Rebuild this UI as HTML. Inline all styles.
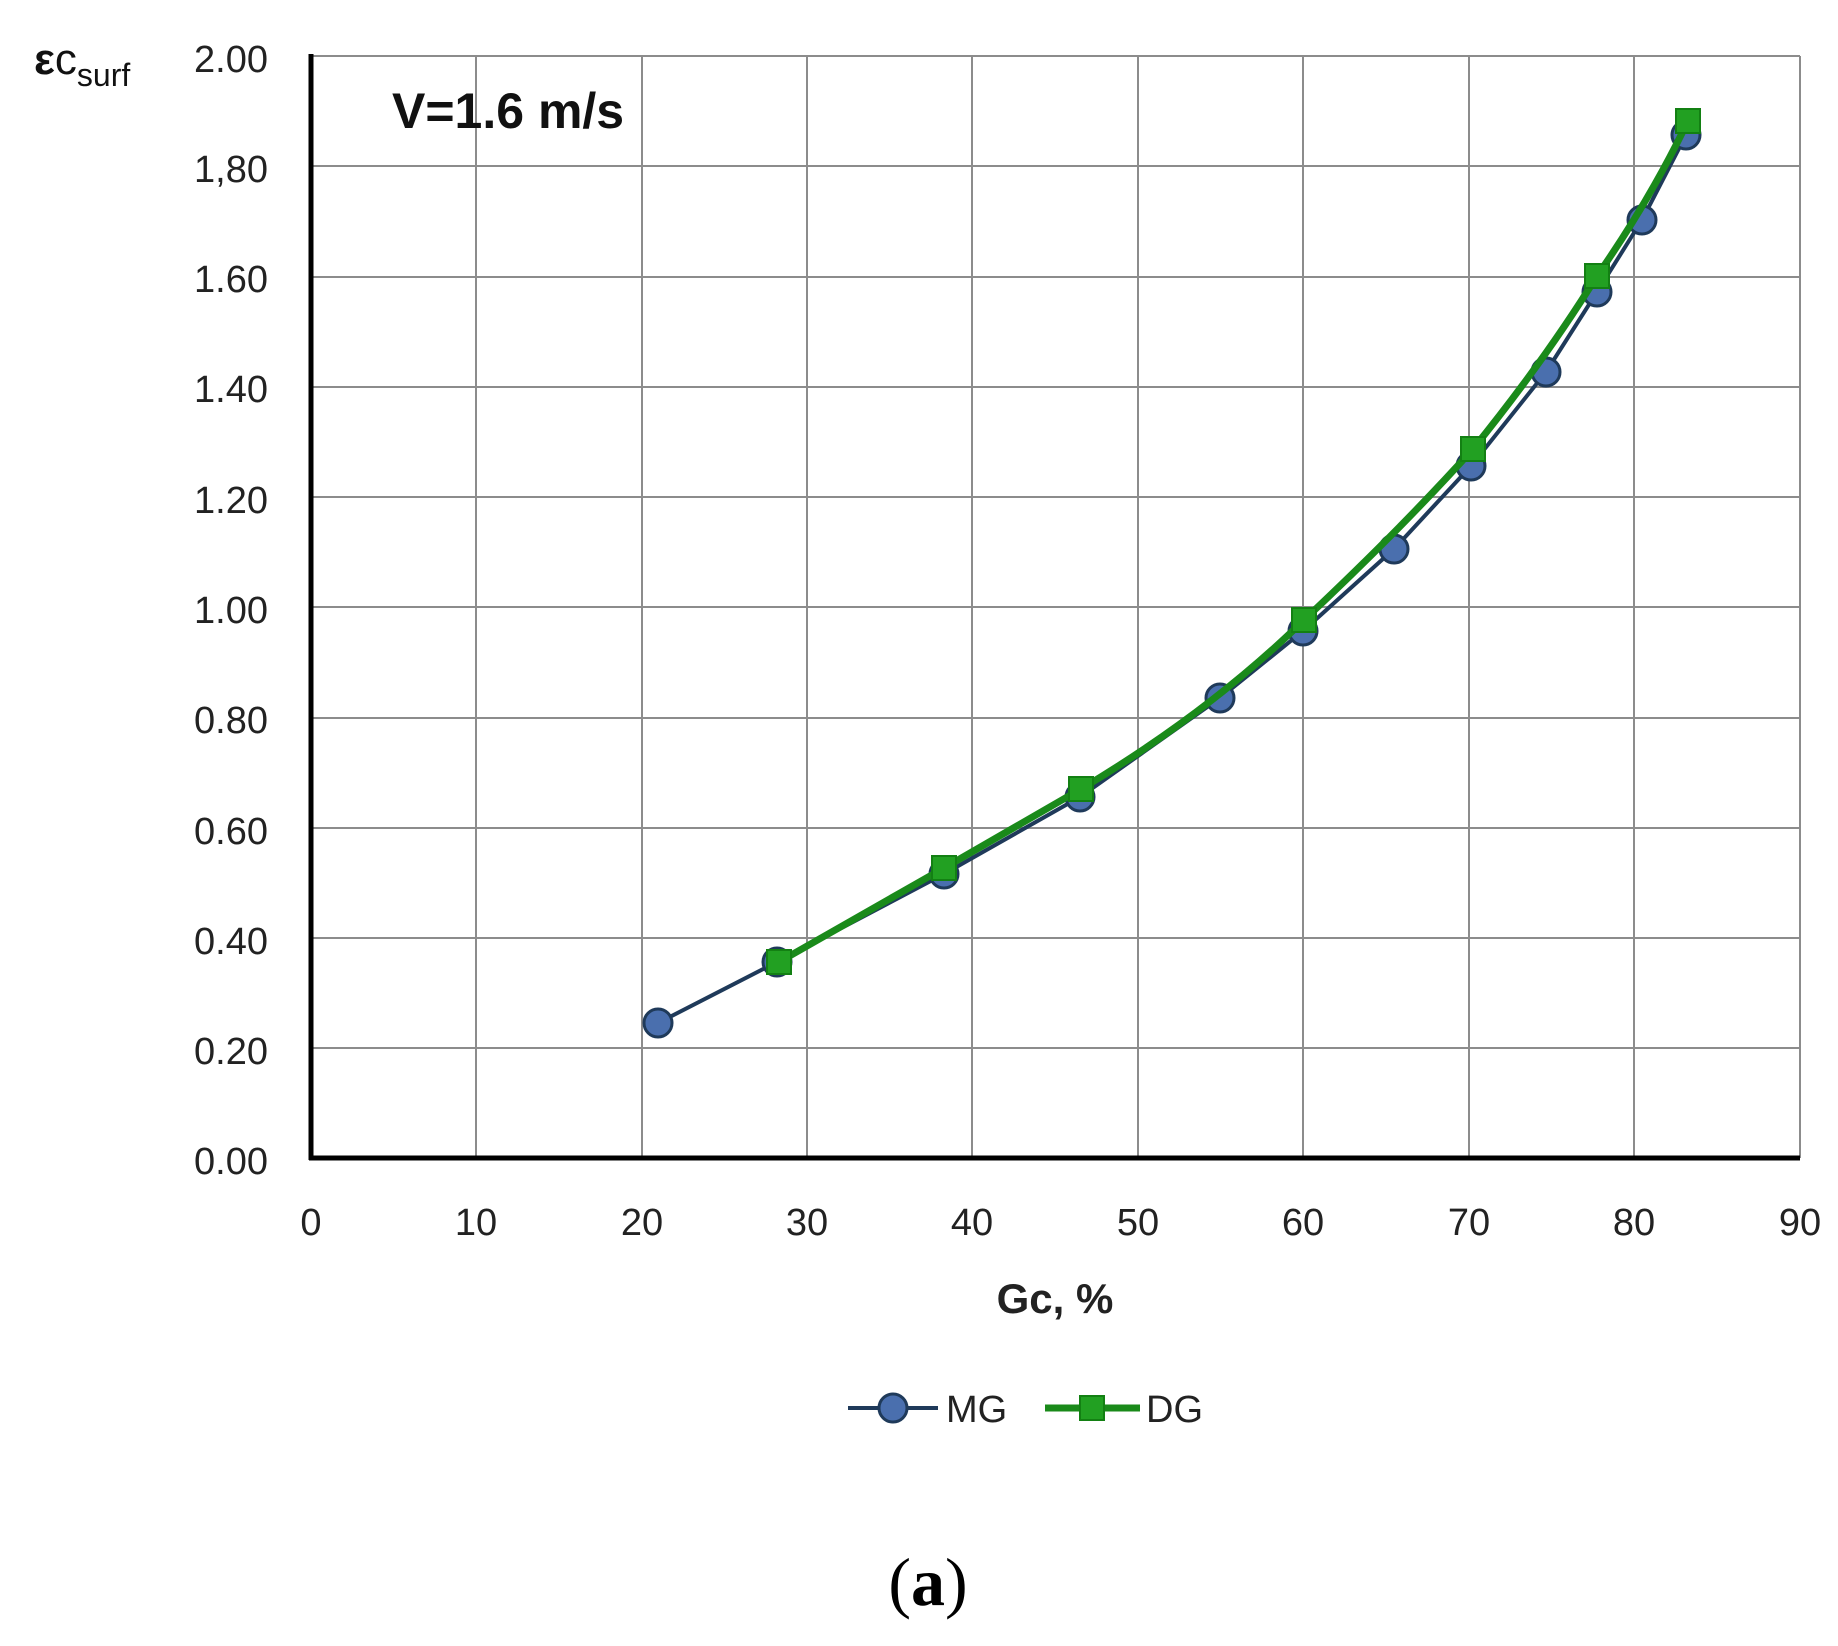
<!DOCTYPE html>
<html><head><meta charset="utf-8"><style>
html,body{margin:0;padding:0;background:#fff;}
svg{display:block;}
text{font-family:"Liberation Sans",sans-serif;}
</style></head><body>
<svg width="1838" height="1646" viewBox="0 0 1838 1646" xmlns="http://www.w3.org/2000/svg">
<rect width="1838" height="1646" fill="#fff"/>
<g stroke="#8c8c8c" stroke-width="2" fill="none">
<line x1="311" y1="56" x2="1800" y2="56"/>
<line x1="311" y1="166" x2="1800" y2="166"/>
<line x1="311" y1="277" x2="1800" y2="277"/>
<line x1="311" y1="387" x2="1800" y2="387"/>
<line x1="311" y1="497" x2="1800" y2="497"/>
<line x1="311" y1="607" x2="1800" y2="607"/>
<line x1="311" y1="718" x2="1800" y2="718"/>
<line x1="311" y1="828" x2="1800" y2="828"/>
<line x1="311" y1="938" x2="1800" y2="938"/>
<line x1="311" y1="1048" x2="1800" y2="1048"/>
<line x1="476" y1="56" x2="476" y2="1158"/>
<line x1="642" y1="56" x2="642" y2="1158"/>
<line x1="807" y1="56" x2="807" y2="1158"/>
<line x1="972" y1="56" x2="972" y2="1158"/>
<line x1="1138" y1="56" x2="1138" y2="1158"/>
<line x1="1303" y1="56" x2="1303" y2="1158"/>
<line x1="1469" y1="56" x2="1469" y2="1158"/>
<line x1="1634" y1="56" x2="1634" y2="1158"/>
<line x1="1800" y1="56" x2="1800" y2="1158"/>
</g>
<g stroke="#000" stroke-width="5">
<line x1="311" y1="54" x2="311" y2="1160"/>
<line x1="309" y1="1158" x2="1800" y2="1158"/>
</g>
<g font-size="38" fill="#222" text-anchor="end" textLength="80">
<text x="268" y="72">2.00</text><text x="268" y="182">1,80</text><text x="268" y="292">1.60</text>
<text x="268" y="402">1.40</text><text x="268" y="513">1.20</text><text x="268" y="623">1.00</text>
<text x="268" y="733">0.80</text><text x="268" y="844">0.60</text><text x="268" y="954">0.40</text>
<text x="268" y="1064">0.20</text><text x="268" y="1174">0.00</text>
</g>
<g font-size="38" fill="#222" text-anchor="middle">
<text x="311" y="1235">0</text><text x="476" y="1235">10</text><text x="642" y="1235">20</text>
<text x="807" y="1235">30</text><text x="972" y="1235">40</text><text x="1138" y="1235">50</text>
<text x="1303" y="1235">60</text><text x="1469" y="1235">70</text><text x="1634" y="1235">80</text>
<text x="1800" y="1235">90</text>
</g>
<text x="1055" y="1313" font-size="42" font-weight="bold" text-anchor="middle" fill="#222">Gc, %</text>
<text x="392" y="128" font-size="50" font-weight="bold" fill="#111">V=1.6 m/s</text>
<text x="34" y="74" font-size="44" font-weight="bold" fill="#111">ε<tspan font-weight="normal">c</tspan><tspan font-size="32" font-weight="normal" dy="12">surf</tspan></text>
<polyline fill="none" stroke="#1f3a5a" stroke-width="4" stroke-linejoin="round" points="658,1023 777,962 944,874 1080,797 1220,698 1303,631 1394,549 1471,466 1546,372 1597,292 1642,220 1686,135"/>
<g fill="#4a6fae" stroke="#1f3a5a" stroke-width="3">
<circle cx="658" cy="1023" r="14"/><circle cx="777" cy="962" r="14"/><circle cx="944" cy="874" r="14"/>
<circle cx="1080" cy="797" r="14"/><circle cx="1220" cy="698" r="14"/><circle cx="1303" cy="631" r="14"/>
<circle cx="1394" cy="549" r="14"/><circle cx="1471" cy="466" r="14"/><circle cx="1546" cy="372" r="14"/>
<circle cx="1597" cy="292" r="14"/><circle cx="1642" cy="220" r="14"/><circle cx="1686" cy="135" r="14"/>
</g>
<path fill="none" stroke="#1a8a1a" stroke-width="7" stroke-linejoin="round" d="M779,962 L944,868 Q1010,830 1081,789 Q1210,712 1304,620 Q1400,530 1473,449 Q1545,360 1597,276 Q1650,200 1688,121"/>
<g fill="#22a022" stroke="#138013" stroke-width="2">
<rect x="767" y="950" width="24" height="24"/><rect x="932" y="856" width="24" height="24"/>
<rect x="1069" y="777" width="24" height="24"/><rect x="1292" y="608" width="24" height="24"/>
<rect x="1461" y="437" width="24" height="24"/><rect x="1585" y="264" width="24" height="24"/>
<rect x="1676" y="109" width="24" height="24"/>
</g>
<line x1="848" y1="1408" x2="938" y2="1408" stroke="#1f3a5a" stroke-width="4"/>
<circle cx="893" cy="1408" r="14" fill="#4a6fae" stroke="#1f3a5a" stroke-width="3"/>
<text x="946" y="1422" font-size="38" fill="#222">MG</text>
<line x1="1045" y1="1408" x2="1140" y2="1408" stroke="#1a8a1a" stroke-width="7"/>
<rect x="1080" y="1396" width="24" height="24" fill="#22a022" stroke="#138013" stroke-width="2"/>
<text x="1146" y="1422" font-size="38" fill="#222">DG</text>
<text x="928" y="1605" font-size="68" text-anchor="middle" fill="#000" style="font-family:'Liberation Serif',serif">(<tspan font-weight="bold">a</tspan>)</text>
</svg>
</body></html>
